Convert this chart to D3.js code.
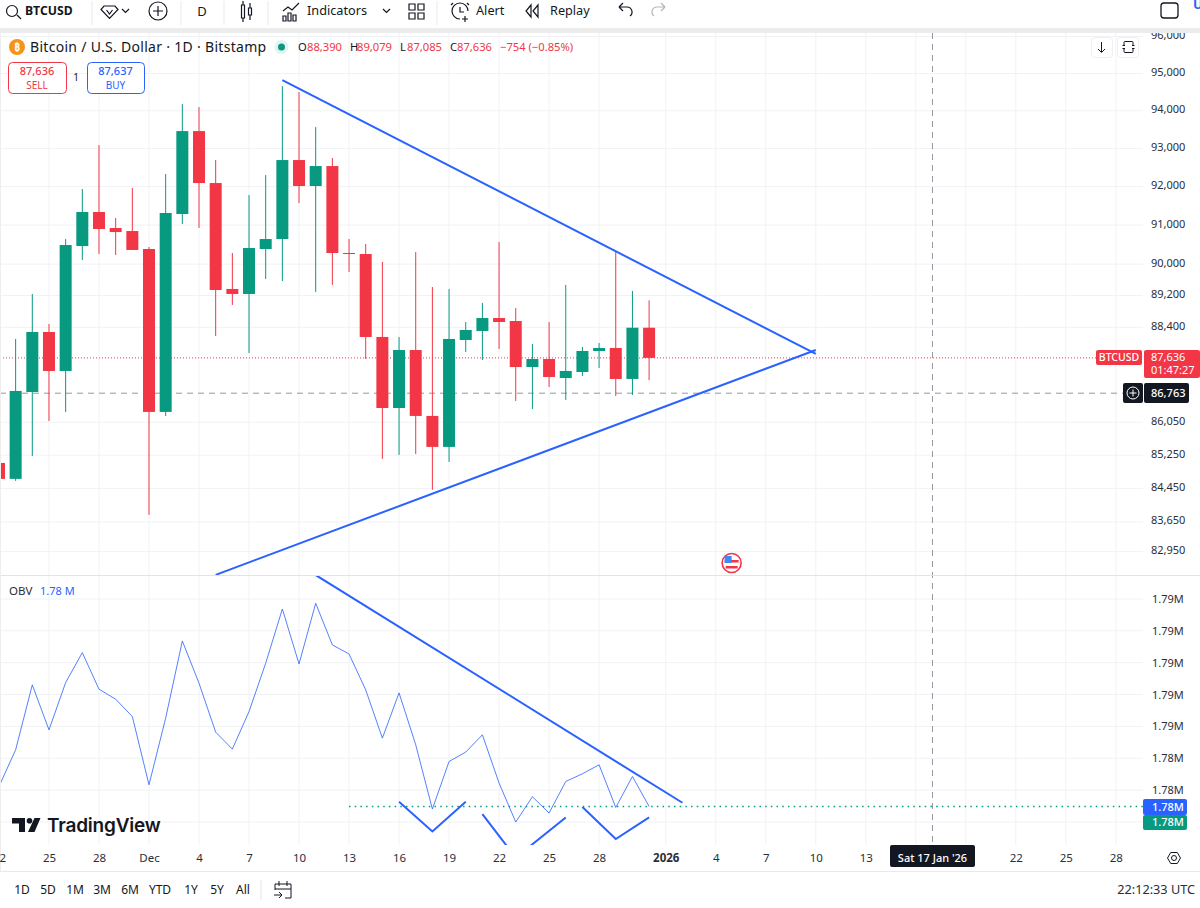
<!DOCTYPE html>
<html>
<head>
<meta charset="utf-8">
<title>BTCUSD</title>
<script src="https://cdn.jsdelivr.net/npm/d3@7"></script>
<style>
  html, body { margin: 0; padding: 0; background: #fff; overflow: hidden; }
  svg { display: block; font-family: "Noto Sans", sans-serif; }
</style>
</head>
<body>
<svg id="chart" width="1200" height="908"></svg>
<script>
// Daily candles, 22 Nov to 31 Dec 2025
const dates = ["2025-11-22","2025-11-23","2025-11-24","2025-11-25","2025-11-26","2025-11-27","2025-11-28","2025-11-29","2025-11-30",
  "2025-12-01","2025-12-02","2025-12-03","2025-12-04","2025-12-05","2025-12-06","2025-12-07","2025-12-08","2025-12-09","2025-12-10",
  "2025-12-11","2025-12-12","2025-12-13","2025-12-14","2025-12-15","2025-12-16","2025-12-17","2025-12-18","2025-12-19","2025-12-20",
  "2025-12-21","2025-12-22","2025-12-23","2025-12-24","2025-12-25","2025-12-26","2025-12-27","2025-12-28","2025-12-29","2025-12-30","2025-12-31"];
const opens = [85063,84679,86793,88283,87312,90462,91340,90926,90848,
  90386,86303,91288,93461,92093,89367,89240,90386,90642,92696,
  92015,92538,90283,90257,88158,86399,87832,86205,85451,88083,
  88308,88633,88558,87410,87608,87138,87287,87808,87883,87114,88390];
const highs = [85063,88108,89240,88483,90642,91937,93091,91183,91963,
  90437,92329,94179,94098,92696,90283,91781,92303,94661,94500,
  93567,92749,90642,90514,90053,88158,90308,89417,89367,88533,
  89013,90565,88883,87983,88533,89468,87908,88008,90308,89316,89079];
const lows = [84640,84631,85232,86082,86303,90105,90257,90232,90361,
  83819,86205,91028,90926,88183,88962,87759,89620,89569,91571,
  89291,89468,89797,87608,85159,85256,85280,84417,85087,87783,
  87583,87858,86572,86374,86917,86596,87188,87385,86695,86720,87085];
const closes = [84679,86818,88283,87312,90488,91340,90900,90822,90361,
  86303,91314,93461,92093,89341,89240,90411,90642,92696,92015,
  92538,90283,90257,88158,86399,87832,86205,85451,88108,88333,
  88633,88533,87410,87608,87163,87312,87808,87883,87114,88390,87636];
const obv = [1782231,1784532,1788608,1785786,1788752,1790633,1788338,1787711,1786620,
  1782338,1786520,1791367,1788714,1785642,1784576,1786934,1789968,1793373,1789924,
  1793730,1791116,1790551,1788294,1785266,1788106,1784846,1780814,1783799,1784388,
  1785473,1782444,1779999,1781585,1780563,1782545,1783027,1783592,1780915,1782858,1780977];

// Axis ticks
const priceTicks = [96000,95000,94000,93000,92000,91000,90000,89200,88400,86050,85250,84450,83650,82950];
const obvTicks = [1794000,1792000,1790000,1788000,1786000,1784000,1782000,1780000];
const dateTicks = ["2025-11-22","2025-11-25","2025-11-28","2025-12-01","2025-12-04","2025-12-07","2025-12-10","2025-12-13","2025-12-16",
  "2025-12-19","2025-12-22","2025-12-25","2025-12-28","2026-01-01","2026-01-04","2026-01-07","2026-01-10","2026-01-13","2026-01-16",
  "2026-01-19","2026-01-22","2026-01-25","2026-01-28"];
// these two sit under the crosshair date tag
const hiddenDateLabels = ["2026-01-16","2026-01-19"];
const rangeLabels = ["1D","5D","1M","3M","6M","YTD","1Y","5Y","All"];

// Hand drawn lines on the chart: [date, value]
const priceTrends = [
  [["2025-12-09",94822],["2026-01-10",87734]],
  [["2025-12-05",82405],["2026-01-10",87832]]
];
const obvTrends = [
  [["2025-12-11",1795505],["2026-01-02",1781209]],
  [["2025-12-16",1781272],["2025-12-18",1779409],["2025-12-20",1781272]],
  [["2025-12-21",1780501],["2025-12-23",1777761],["2025-12-26",1780288]],
  [["2025-12-27",1780940],["2025-12-29",1778933],["2025-12-31",1780288]]
];

const lastPrice = 87636, crossPrice = 86763, crossDate = "2026-01-17", obvLast = 1780977;

const GREEN = "#089981", RED = "#F23645", BLUE = "#2962FF", INK = "#131722", GRID = "#f1f2f5";
const TEXT = "#2a2e39";
const d = s => new Date(s + "T00:00:00Z");

const x = d3.scaleUtc().domain([d("2025-12-01"), d("2026-01-31")]).range([149, 149 + 61 * 16.67]);
const y = d3.scaleLog().domain([96000, 82950]).range([36.6, 551.6]);
const yObv = d3.scaleLinear().domain([1794000, 1780000]).range([599, 822]);

const svg = d3.select("#chart");

function label(parent, px, py, str, opts = {}) {
  const t = parent.append("text")
    .attr("x", px).attr("y", py)
    .attr("dy", "0.35em")
    .attr("text-anchor", opts.anchor || "start")
    .attr("font-size", opts.size || 11)
    .attr("font-weight", opts.weight || 400)
    .attr("fill", opts.fill || TEXT)
    .text(str);
  if (opts.spacing) t.attr("letter-spacing", opts.spacing);
  return t;
}

// grid lines
const grid = svg.append("g");
grid.selectAll(".v").data(dateTicks).join("line")
  .attr("x1", t => x(d(t))).attr("x2", t => x(d(t)))
  .attr("y1", 33).attr("y2", 845)
  .attr("stroke", GRID);
grid.selectAll(".hp").data(priceTicks).join("line")
  .attr("x1", 0).attr("x2", 1143)
  .attr("y1", t => y(t)).attr("y2", t => y(t))
  .attr("stroke", GRID);
grid.selectAll(".ho").data(obvTicks).join("line")
  .attr("x1", 0).attr("x2", 1143)
  .attr("y1", t => yObv(t)).attr("y2", t => yObv(t))
  .attr("stroke", GRID);

// crosshair and last price lines
svg.append("line").attr("x1", 0).attr("x2", 1123).attr("y1", y(crossPrice)).attr("y2", y(crossPrice))
  .attr("stroke", "#9598a1").attr("stroke-dasharray", "6,5");
svg.append("line").attr("x1", x(d(crossDate))).attr("x2", x(d(crossDate))).attr("y1", 33).attr("y2", 845)
  .attr("stroke", "#9598a1").attr("stroke-dasharray", "6,5");
svg.append("line").attr("x1", 0).attr("x2", 1096).attr("y1", y(lastPrice)).attr("y2", y(lastPrice))
  .attr("stroke", RED).attr("stroke-dasharray", "1,2");

// candles
const candles = svg.append("g").selectAll("g").data(dates).join("g")
  .attr("fill", (t, i) => closes[i] >= opens[i] ? GREEN : RED)
  .attr("stroke", (t, i) => closes[i] >= opens[i] ? GREEN : RED);
candles.append("line")
  .attr("x1", t => x(d(t))).attr("x2", t => x(d(t)))
  .attr("y1", (t, i) => y(highs[i])).attr("y2", (t, i) => y(lows[i]))
  .attr("stroke-width", 1);
candles.append("rect")
  .attr("x", t => x(d(t)) - 6)
  .attr("width", 12)
  .attr("y", (t, i) => y(Math.max(opens[i], closes[i])))
  .attr("height", (t, i) => Math.max(1, y(Math.min(opens[i], closes[i])) - y(Math.max(opens[i], closes[i]))))
  .attr("stroke", "none");

// clip the drawings to their own pane
const defs = svg.append("defs");
defs.append("clipPath").attr("id", "pricePane").append("rect").attr("x", 0).attr("y", 33).attr("width", 1143).attr("height", 542);
defs.append("clipPath").attr("id", "obvPane").append("rect").attr("x", 0).attr("y", 575).attr("width", 1143).attr("height", 270);

const priceLine = d3.line().x(p => x(d(p[0]))).y(p => y(p[1]));
const obvLine = d3.line().x(p => x(d(p[0]))).y(p => yObv(p[1]));

svg.append("g").attr("clip-path", "url(#pricePane)")
  .selectAll("path").data(priceTrends).join("path")
  .attr("d", priceLine).attr("fill", "none").attr("stroke", BLUE).attr("stroke-width", 2);

// obv pane
svg.append("line").attr("x1", x(d("2025-12-13"))).attr("x2", 1143).attr("y1", yObv(obvLast)).attr("y2", yObv(obvLast))
  .attr("stroke", GREEN).attr("stroke-width", 1.5).attr("stroke-dasharray", "1.5,4.2");

svg.append("path")
  .attr("d", d3.line().x(t => x(d(t))).y((t, i) => yObv(obv[i]))(dates))
  .attr("fill", "none").attr("stroke", BLUE).attr("stroke-opacity", 0.8).attr("stroke-width", 1);

svg.append("g").attr("clip-path", "url(#obvPane)")
  .selectAll("path").data(obvTrends).join("path")
  .attr("d", obvLine).attr("fill", "none").attr("stroke", BLUE).attr("stroke-width", 2);

// pane separator
svg.append("line").attr("x1", 0).attr("x2", 1200).attr("y1", 575.5).attr("y2", 575.5).attr("stroke", "#e0e3eb");
svg.append("line").attr("x1", 0.5).attr("x2", 0.5).attr("y1", 33).attr("y2", 871).attr("stroke", "#eeeeee");

// right axes
const priceAxis = d3.axisRight(y).tickValues(priceTicks).tickFormat(d3.format(",")).tickSize(0).tickPadding(0);
const obvAxis = d3.axisRight(yObv).tickValues(obvTicks.slice(0, 7)).tickFormat(v => (v / 1e6).toFixed(2) + "M").tickSize(0).tickPadding(0);
function styleAxis(g, size = 11) {
  g.select(".domain").remove();
  g.selectAll("text").attr("font-family", "'Noto Sans', sans-serif").attr("font-size", size).attr("fill", TEXT);
}
// price labels sit a little above their grid lines in the reference
svg.append("g").attr("transform", "translate(1151,-1.6)").call(priceAxis).call(styleAxis);
svg.append("g").attr("transform", "translate(1152,0)").call(obvAxis).call(styleAxis);

// time axis
const fmtDate = v => {
  if (hiddenDateLabels.some(h => +d(h) === +v)) return "";
  if (v.getUTCFullYear() === 2026 && v.getUTCMonth() === 0 && v.getUTCDate() === 1) return "2026";
  if (v.getUTCDate() === 1) return "Dec";
  return String(v.getUTCDate());
};
const timeAxis = d3.axisBottom(x).tickValues(dateTicks.map(d)).tickFormat(fmtDate).tickSize(0).tickPadding(0);
const timeG = svg.append("g").attr("transform", "translate(0,853.5)").call(timeAxis).call(styleAxis, 11.5);
timeG.selectAll("text").filter(v => fmtDate(v) === "2026").attr("font-weight", 700);

// top bar
svg.append("rect").attr("x", 0).attr("y", 0).attr("width", 1200).attr("height", 28).attr("fill", "#fff");
svg.append("rect").attr("x", 0).attr("y", 28).attr("width", 1200).attr("height", 5).attr("fill", "#ececec");

const toolbar = svg.append("g");
const icon = (p, sw = 1.2) => toolbar.append("path").attr("d", p).attr("fill", "none").attr("stroke", INK).attr("stroke-width", sw);
icon("M17 15l4 4M17.5 11a5.5 5.5 0 1 1-11 0a5.5 5.5 0 1 1 11 0");
label(toolbar, 25, 11, "BTCUSD", { size: 12.2, weight: 700, fill: INK });
[92, 181, 224, 268, 437].forEach(sx => {
  toolbar.append("line").attr("x1", sx).attr("x2", sx).attr("y1", 1).attr("y2", 25).attr("stroke", "#e8e9ee");
});
icon("M104 6h11l3 3.5l-8.5 9l-8.5-9zM106.5 10l3 4l3-4");
icon("M122 9l3.5 3.5L129 9");
icon("M167 11a9 9 0 1 1-18 0a9 9 0 1 1 18 0M158 6v10M153 11h10");
label(toolbar, 202, 11, "D", { size: 13, anchor: "middle", fill: INK });
icon("M241.5 5h3v13h-3zM243 1v4M243 18v4M248.5 8h3v7h-3zM250 3v5M250 15v5");
icon("M283 21v-5h3v5zM288 21v-8h3v8zM293 21v-6h3v6zM283 11l5-4l4 3l7-7");
label(toolbar, 307, 11, "Indicators", { size: 12.7, fill: INK });
icon("M383 9l3.5 3.5L390 9");
icon("M409 4h6v6h-6zM418 4h6v6h-6zM409 13h6v6h-6zM418 13h6v6h-6z");
icon("M468 11a8 8 0 1 0-8 8M460 7v5h4M453 3l-2 2M467 3l2 2M465 16v6M462 19h6");
label(toolbar, 476, 11, "Alert", { size: 12.7, fill: INK });
icon("M531 5l-5 6l5 6zM538 5l-5 6l5 6z");
label(toolbar, 550, 11, "Replay", { size: 12.7, fill: INK });
icon("M619 7h8a5 5 0 0 1 3 9M619 7l4-4M619 7l4 4");
toolbar.append("path").attr("d", "M665 7h-8a5 5 0 0 0-3 9M665 7l-4-4M665 7l-4 4").attr("fill", "none").attr("stroke", "#b2b5be").attr("stroke-width", 1.2);
toolbar.append("rect").attr("x", 1161).attr("y", 3).attr("width", 17).attr("height", 15).attr("rx", 3).attr("fill", "none").attr("stroke", INK).attr("stroke-width", 1.3);
label(toolbar, 1193, 4, "U", { size: 13, weight: 700, fill: "#2962ff" });

// legend row
const legend = svg.append("g");
legend.append("circle").attr("cx", 17).attr("cy", 47).attr("r", 8).attr("fill", "#F7931A");
label(legend, 17, 47, "₿", { size: 10, weight: 700, fill: "#fff", anchor: "middle" });
label(legend, 30, 47, "Bitcoin / U.S. Dollar · 1D · Bitstamp", { size: 14, fill: INK, spacing: 0.3 });
legend.append("circle").attr("cx", 281.5).attr("cy", 47).attr("r", 7).attr("fill", "#e3f3f0");
legend.append("circle").attr("cx", 281.5).attr("cy", 47).attr("r", 3.5).attr("fill", GREEN);
[[298, "O", INK], [307, "88,390", RED], [350, "H", INK], [357, "89,079", RED], [400, "L", INK], [407, "87,085", RED],
 [450, "C", INK], [457, "87,636", RED], [500, "−754 (−0.85%)", RED]].forEach(o => {
  label(legend, o[0], 47, o[1], { size: 11.2, fill: o[2] });
});

// sell / buy boxes
[[8, 58, RED, "87,636", "SELL"], [87, 57, BLUE, "87,637", "BUY"]].forEach(b => {
  legend.append("rect").attr("x", b[0] + 0.5).attr("y", 62.5).attr("width", b[1]).attr("height", 31).attr("rx", 4)
    .attr("fill", "#fff").attr("stroke", b[2]);
  label(legend, b[0] + b[1] / 2, 71, b[3], { size: 11, weight: 500, fill: b[2], anchor: "middle" });
  label(legend, b[0] + b[1] / 2, 85, b[4], { size: 10, fill: b[2], anchor: "middle" });
});
label(legend, 76, 77, "1", { size: 10, fill: INK, anchor: "middle" });

// small chart buttons
[[1091, "M1101.5 42v10M1098 49l3.5 3.5l3.5-3.5"], [1117, "M1124 45.5v-3a1 1 0 0 1 1-1h7a1 1 0 0 1 1 1v3M1124 48.5v3a1 1 0 0 0 1 1h7a1 1 0 0 0 1-1v-3M1122.5 45.5h2.5M1132 45.5h2.5M1122.5 48.5h2.5M1132 48.5h2.5"]].forEach(b => {
  legend.append("rect").attr("x", b[0] + 0.5).attr("y", 37.5).attr("width", 21).attr("height", 20).attr("rx", 3)
    .attr("fill", "#fff").attr("stroke", "#eeeff2");
  legend.append("path").attr("d", b[1]).attr("fill", "none").attr("stroke", INK);
});

// obv legend
label(svg, 9, 591, "OBV", { size: 11.5, fill: TEXT });
label(svg, 40, 591, "1.78 M", { size: 11, fill: BLUE });

// watermark
const wm = svg.append("g");
wm.append("path").attr("d", "M12 818h13v14h-6v-8.5h-7zM34.5 818h6l-6 14h-6.5z").attr("fill", INK);
wm.append("circle").attr("cx", 29.5).attr("cy", 820.8).attr("r", 2.8).attr("fill", INK);
wm.append("text").attr("x", 47).attr("y", 832).attr("font-family", "Inter").attr("font-size", 19).attr("font-weight", 600)
  .attr("fill", INK).attr("letter-spacing", -0.2).text("TradingView");

// event flag
const flag = svg.append("g").attr("transform", `translate(${x(d("2026-01-05")) - 0.8},563)`);
flag.append("circle").attr("r", 9.5).attr("fill", "#fff").attr("stroke", RED).attr("stroke-width", 1.6);
flag.append("rect").attr("x", -7).attr("y", -3).attr("width", 14).attr("height", 2.5).attr("fill", RED);
flag.append("rect").attr("x", -6).attr("y", 3).attr("width", 12).attr("height", 2.5).attr("fill", RED);
flag.append("rect").attr("x", -7).attr("y", -7).attr("width", 7).attr("height", 7).attr("fill", "#3d8bf2");

// price tags
const tags = svg.append("g");
const tag = (tx, ty, w, h, fill, r = 2) => tags.append("rect").attr("x", tx).attr("y", ty).attr("width", w).attr("height", h).attr("rx", r).attr("fill", fill);
tag(1096, 350, 46, 15, RED);
label(tags, 1119, 357.5, "BTCUSD", { size: 10.5, weight: 500, fill: "#fff", anchor: "middle" });
tag(1144, 350, 56, 28, RED);
label(tags, 1151, 357, "87,636", { fill: "#fff" });
label(tags, 1151, 370.5, "01:47:27", { fill: "#fff", size: 11 });
tag(1123, 383, 20, 20, INK);
tags.append("path").attr("d", "M1139 393a6 6 0 1 1-12 0a6 6 0 1 1 12 0M1133 389.5v7M1129.5 393h7").attr("fill", "none").attr("stroke", "#fff");
tag(1144, 383, 45, 20, INK);
label(tags, 1151, 393, "86,763", { fill: "#fff", weight: 500 });
tag(1143, 799, 44, 16, BLUE);
label(tags, 1152, 807, "1.78M", { fill: "#fff", weight: 500 });
tag(1143, 815, 44, 15, GREEN);
label(tags, 1152, 822.5, "1.78M", { fill: "#fff", weight: 500 });
tag(890, 845, 85, 22, INK);
label(tags, 932.5, 858, "Sat 17 Jan '26", { fill: "#fff", anchor: "middle", weight: 500, size: 11 });

// settings icon
svg.append("path").attr("d", "M1167.5 858l3.2-5.5h6.6l3.2 5.5l-3.2 5.5h-6.6zM1176.5 858a2.5 2.5 0 1 1-5 0a2.5 2.5 0 1 1 5 0")
  .attr("fill", "none").attr("stroke", INK);

// bottom bar
svg.append("line").attr("x1", 0).attr("x2", 1200).attr("y1", 871.5).attr("y2", 871.5).attr("stroke", "#e8e9ee");
const rangePos = [22, 48, 75, 102, 130, 160, 191, 217, 243];
rangeLabels.forEach((r, i) => label(svg, rangePos[i], 890, r, { size: 12, anchor: "middle", fill: INK }));
svg.append("line").attr("x1", 261).attr("x2", 261).attr("y1", 880).attr("y2", 900).attr("stroke", "#e0e3eb");
svg.append("path").attr("d", "M275 884h16v14h-6M275 884v6M279 881v5M287 881v5M275 889h16M274 895h8M279 892l3 3l-3 3")
  .attr("fill", "none").attr("stroke", INK);
label(svg, 1195, 890, "22:12:33 UTC", { size: 12.7, anchor: "end", fill: TEXT });
</script>
</body>
</html>
